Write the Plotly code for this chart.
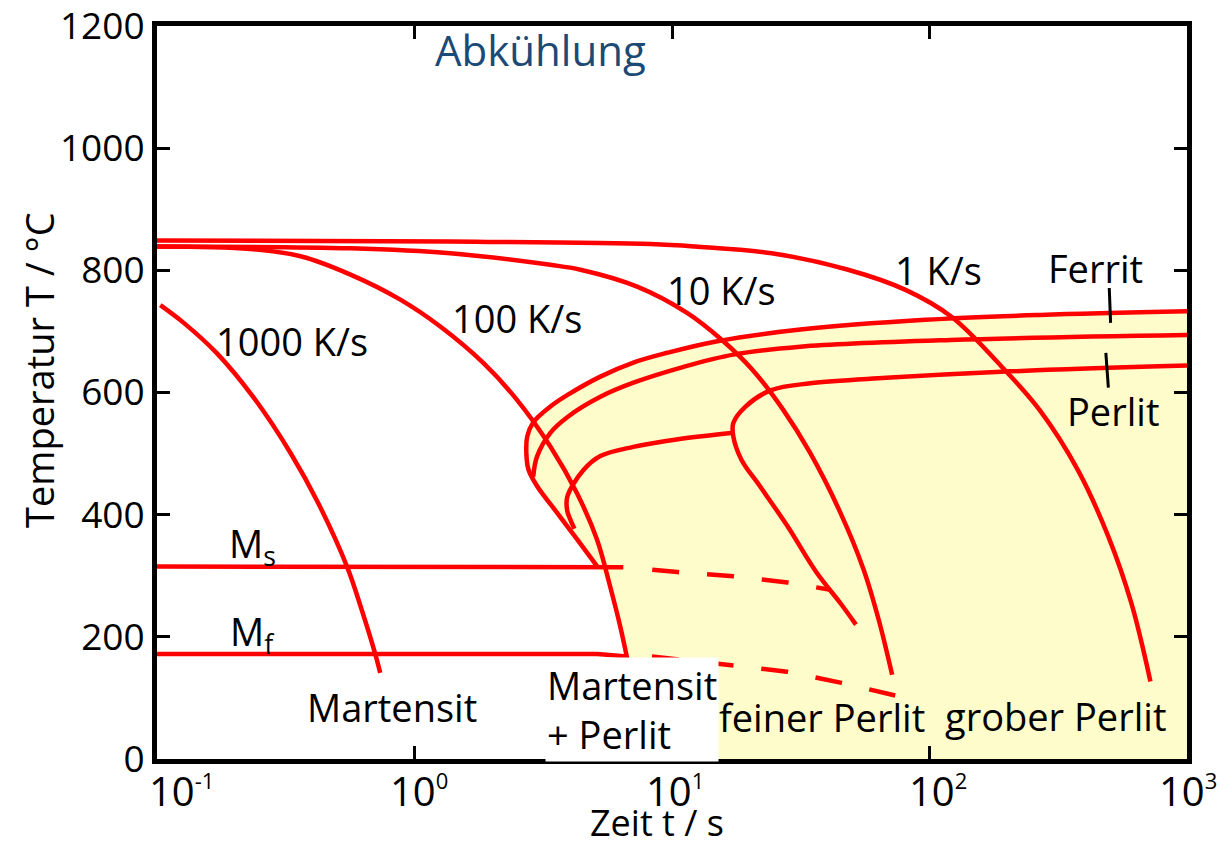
import plotly.graph_objects as go

# ---------------- data (time in s, temperature in °C) ----------------
c1000_t = [0.103, 0.127, 0.171, 0.237, 0.330, 0.425, 0.547, 0.624, 0.705, 0.736]
c1000_T = [743, 714, 664, 592, 501, 417, 315, 244, 171, 141]

c100_t = [0.1, 0.230, 0.361, 0.564, 0.881, 1.259, 1.854, 2.50, 3.365, 4.276, 5.117, 5.754, 6.295, 6.887]
c100_T = [839, 835, 823, 793, 752, 708, 648, 588, 512, 435, 359, 282, 217, 140]

c10_t = [0.1, 0.562, 1.377, 3.365, 4.41, 7.36, 11.48, 15.63, 20.56, 27.0, 34.4, 45.1, 55.5, 63.5, 71.6]
c10_T = [839, 836, 828, 809, 801, 773, 730, 686, 637, 572, 501, 403, 310, 228, 138]

c1_t = [0.1, 1.377, 8.24, 12.3, 24.4, 48.3, 80.7, 121.7, 190, 267, 377, 495, 608, 721]
c1_T = [849, 847, 843, 839, 828, 801, 768, 724, 643, 572, 473, 364, 255, 127]

# transformation lines
ferrit_t = [1000, 269, 96.2, 31.5, 15.0, 9.59, 7.08, 5.27, 3.93, 3.37, 2.89, 2.74, 2.72, 2.77, 3.00, 3.58, 4.29, 5.13]
ferrit_T = [733, 727, 719, 703, 684, 665, 649, 626, 596, 577, 551, 528, 499, 474, 446, 403, 359, 315]

perlit_s_t = [1000, 120.5, 31.5, 17.3, 11.1, 7.08, 5.27, 3.93, 3.37, 2.99, 2.89]
perlit_s_T = [694, 686, 675, 662, 642, 616, 593, 560, 534, 495, 462]

perlit_e_t = [1000, 190, 67.9, 34.4, 24.3, 19.3, 17.3, 17.3, 18.6, 22.0, 28.1, 36.6, 45.1, 51.8]
perlit_e_T = [644, 634, 624, 615, 604, 577, 550, 528, 490, 446, 381, 304, 255, 220]

perlit_e2_t = [17.3, 10.4, 7.08, 5.27, 4.53, 3.92, 3.92, 4.03, 4.18]
perlit_e2_T = [534, 523, 511, 496, 473, 429, 406, 392, 377]

# martensite start / finish
ms_t = [0.1, 5.13, 6.47]
ms_T = [315, 315, 314]
ms_dash_t = [8.38, 10.5, 17.3, 28.1, 41.2]
ms_dash_T = [310, 306, 299, 289, 277]

mf_t = [0.1, 5.12, 6.68]
mf_T = [172, 172, 168]
mf_dash_t = [8.36, 17.3, 28.0, 45.1, 73.6]
mf_dash_T = [168, 154, 143, 125, 104]

# pearlite region lower-left corner at the time axis
region_bottom_t = 7.74

# pointer strokes next to "Ferrit" / "Perlit"
ptr_ferrit_t = [499, 505]
ptr_ferrit_T = [771, 714]
ptr_perlit_t = [484, 495]
ptr_perlit_T = [665, 608]

x_tickvals = [0.1, 1, 10, 100, 1000]
x_tick_mant = ["10", "10", "10", "10", "10"]
x_tick_exp = ["-1", "0", "1", "2", "3"]
y_tickvals = [0, 200, 400, 600, 800, 1000, 1200]

# ---------------- figure ----------------
RED = "#ff0000"
YEL = "#fefccb"
FONT = "Open Sans"
LW = 4.5

fig = go.Figure()

# yellow pearlite region
idx_cut = [i for i, T in enumerate(c100_T) if T < 315]
poly_t = ferrit_t + [c100_t[i] for i in idx_cut] + [region_bottom_t, 1000, 1000]
poly_T = ferrit_T + [c100_T[i] for i in idx_cut] + [0, 0, ferrit_T[0]]
fig.add_trace(go.Scatter(x=poly_t, y=poly_T, mode="lines", fill="toself",
                         fillcolor=YEL, line=dict(width=0, color=YEL),
                         hoverinfo="skip", showlegend=False))

def curve(t, T, dash="solid", shape="spline", width=LW, color=RED):
    fig.add_trace(go.Scatter(x=t, y=T, mode="lines",
                             line=dict(color=color, width=width, dash=dash,
                                       shape=shape, smoothing=1.0),
                             hoverinfo="skip", showlegend=False))

curve(ferrit_t, ferrit_T)
curve(perlit_s_t, perlit_s_T)
curve(perlit_e_t, perlit_e_T)
curve(perlit_e2_t, perlit_e2_T)

curve(ms_t, ms_T, shape="linear")
curve(mf_t, mf_T, shape="linear")
curve(ms_dash_t, ms_dash_T, dash="27px,28px", shape="linear")
curve(mf_dash_t, mf_dash_T, dash="27px,28px", shape="linear")

curve(c1000_t, c1000_T)
curve(c100_t, c100_T)
curve(c10_t, c10_T)
curve(c1_t, c1_T)

curve(ptr_ferrit_t, ptr_ferrit_T, shape="linear", width=3, color="black")
curve(ptr_perlit_t, ptr_perlit_T, shape="linear", width=3, color="black")

# ---------------- layout ----------------
W, H = 1217, 848
PL, PR, PT, PB = 157, 1187, 26, 759

def px(x):
    return (x - PL) / (PR - PL)

def py(y):
    return (PB - y) / (PB - PT)

def label(text, x, y, size=38, color="black", **kw):
    fig.add_annotation(text=text, x=px(x), y=py(y), xref="paper", yref="paper",
                       showarrow=False, font=dict(family=FONT, size=size, color=color),
                       xanchor=kw.pop("xanchor", "center"), yanchor=kw.pop("yanchor", "middle"),
                       **kw)

label("Abkühlung", 540, 50, size=42, color="#1b4a75")
label("1000 K/s", 292, 341)
label("100 K/s", 517, 318)
label("10 K/s", 721, 290)
label("1 K/s", 938, 270)
label("Ferrit", 1095, 268)
label("Perlit", 1113, 411)
label("M<sub>s</sub>", 252, 545)
label("M<sub>f</sub>", 252, 633)
label("Martensit", 392, 707)
label("Martensit<br>+ Perlit", 632, 709, align="left", bgcolor="white", borderpad=1)
label("feiner Perlit", 822, 717)
label("grober Perlit", 1055, 716)
label("Zeit t / s", 657, 823, size=36)
label("Temperatur T / °C", 39, 370, size=38, textangle=-90)

# time-axis tick labels: the mantissa "10" is centred near each tick,
# the exponent is a small superscript
for mant, exp, cx in zip(x_tick_mant, x_tick_exp, [171, 412, 668, 931, 1181]):
    txt = mant + "<sup><span style='font-size:22px'>" + exp + "</span></sup>"
    label(txt, cx - 24, 790, size=40, xanchor="left")

axis_common = dict(showline=True, linewidth=5, linecolor="black", mirror="ticks",
                   ticks="inside", ticklen=13, tickwidth=3, tickcolor="black",
                   showgrid=False, zeroline=False, automargin=False)

fig.update_layout(
    width=W, height=H,
    margin=dict(l=PL, r=W - PR, t=PT, b=H - PB),
    paper_bgcolor="white", plot_bgcolor="white",
    font=dict(family=FONT, color="black"),
    showlegend=False,
    xaxis=dict(type="log", range=[-1, 3], tickvals=x_tickvals, showticklabels=False,
               **axis_common),
    yaxis=dict(range=[0, 1200], tickvals=y_tickvals, ticklabeloverflow="allow",
               tickfont=dict(size=37, family=FONT, color="black"), **axis_common),
)

fig.write_html("out.html", config={"displayModeBar": False},
               post_script="document.body.style.margin='0px';")
